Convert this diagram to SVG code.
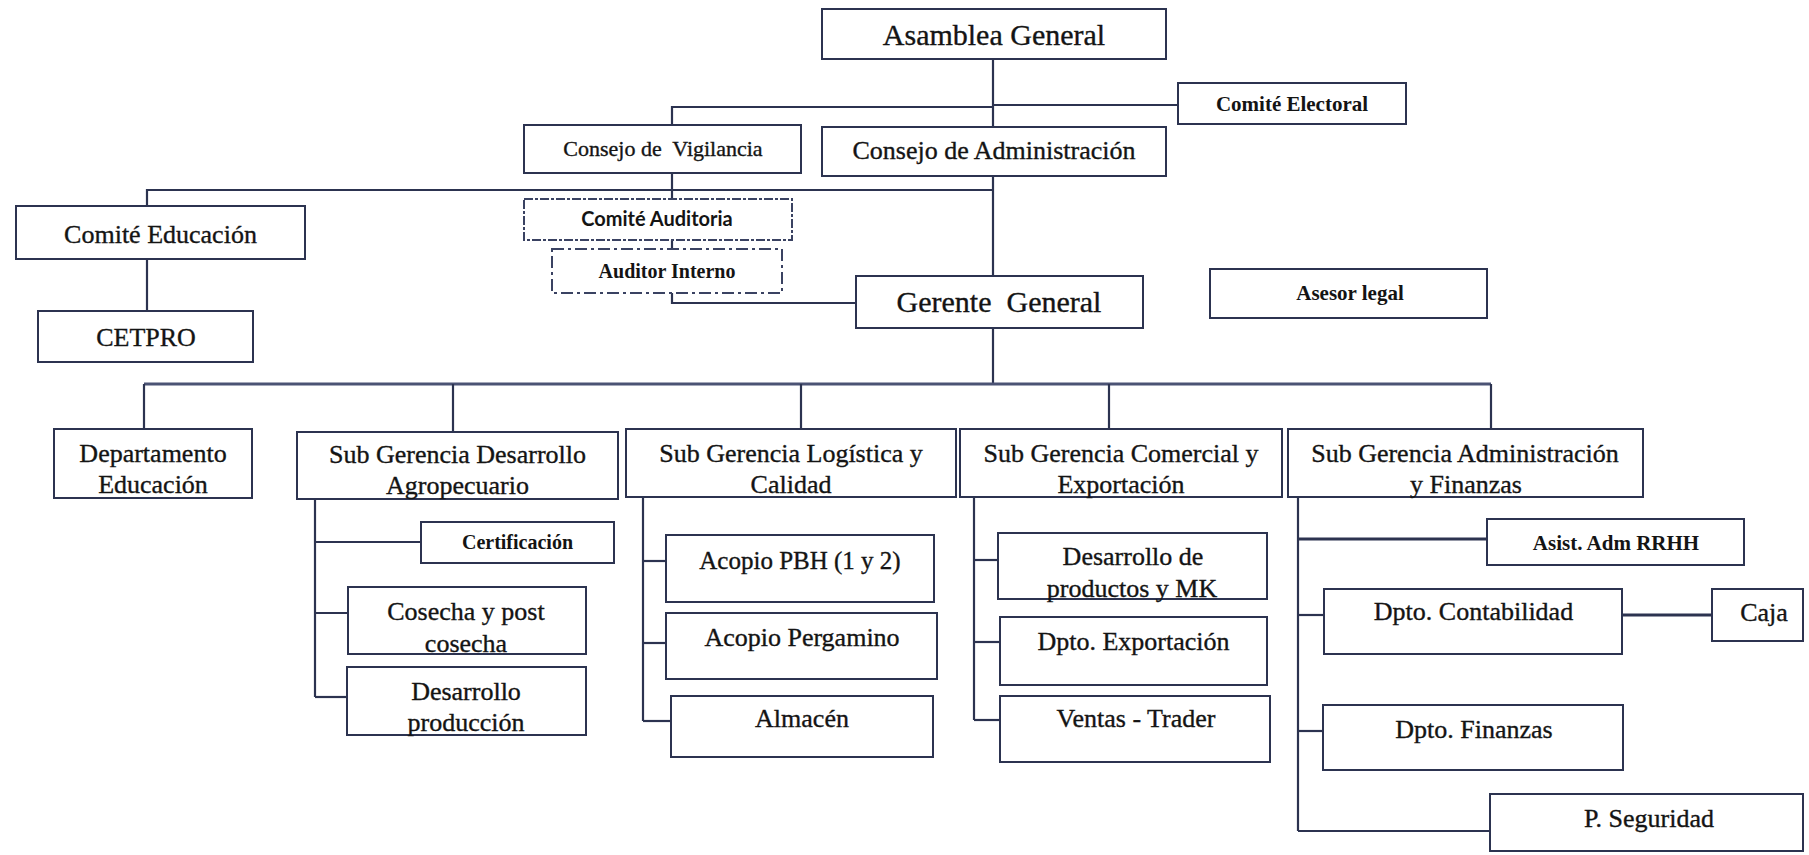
<svg xmlns="http://www.w3.org/2000/svg" width="1809" height="855" viewBox="0 0 1809 855">
  <style>
    .box { fill: #ffffff; stroke: #2c3350; stroke-width: 2; }
    .dash1 { fill: #ffffff; stroke: #3a4262; stroke-width: 2; stroke-dasharray: 9 2 3 2; }
    .dash2 { fill: #ffffff; stroke: #3a4262; stroke-width: 2; stroke-dasharray: 12 4 3 4; }
    .ln { fill: none; stroke: #2c3350; stroke-width: 2.2; }
    .bus { fill: none; stroke: #4b5374; stroke-width: 3; }
    text { font-family: "Liberation Serif", "Times New Roman", serif; fill: #141414; text-anchor: middle; }
    .t30, .t26, .t25, .t22 { stroke: #141414; stroke-width: 0.35; }
    .t30 { font-size: 30px; }
    .t26 { font-size: 26px; }
    .t25 { font-size: 25px; }
    .t22 { font-size: 22px; }
    .b21 { font-size: 21px; font-weight: bold; }
    .b20 { font-size: 20px; font-weight: bold; }
    .s20 { font-family: Lato, "Open Sans", sans-serif; font-size: 20px; font-weight: bold; }
    .pre { white-space: pre; }
  </style>

  <!-- connectors -->
  <g id="connectors">
    <!-- governing bodies -->
    <line class="ln" x1="993" y1="59" x2="993" y2="127"/>
    <line class="ln" x1="993" y1="176" x2="993" y2="276"/>
    <polyline class="ln" points="993,107 672,107 672,125"/>
    <line class="ln" x1="993" y1="105" x2="1178" y2="105"/>
    <polyline class="ln" points="993,190 147,190 147,206"/>
    <line class="ln" x1="672" y1="173" x2="672" y2="199"/>
    <line class="ln" x1="672" y1="240" x2="672" y2="249"/>
    <polyline class="ln" points="672,293 672,303 856,303"/>
    <line class="ln" x1="147" y1="259" x2="147" y2="311"/>
    <!-- general manager to sub-managements -->
    <line class="ln" x1="993" y1="328" x2="993" y2="384"/>
    <line class="bus" x1="144" y1="384" x2="1491" y2="384"/>
    <line class="ln" x1="144" y1="384" x2="144" y2="429"/>
    <line class="ln" x1="453" y1="384" x2="453" y2="432"/>
    <line class="ln" x1="801" y1="384" x2="801" y2="429"/>
    <line class="ln" x1="1109" y1="384" x2="1109" y2="429"/>
    <line class="ln" x1="1491" y1="384" x2="1491" y2="429"/>
    <!-- desarrollo agropecuario -->
    <line class="ln" x1="315" y1="499" x2="315" y2="697"/>
    <line class="ln" x1="315" y1="542" x2="421" y2="542"/>
    <line class="ln" x1="315" y1="613" x2="348" y2="613"/>
    <line class="ln" x1="315" y1="697" x2="347" y2="697"/>
    <!-- logistica -->
    <line class="ln" x1="643" y1="497" x2="643" y2="721"/>
    <line class="ln" x1="643" y1="561" x2="666" y2="561"/>
    <line class="ln" x1="643" y1="643" x2="666" y2="643"/>
    <line class="ln" x1="643" y1="721" x2="671" y2="721"/>
    <!-- comercial -->
    <line class="ln" x1="974" y1="497" x2="974" y2="720"/>
    <line class="ln" x1="974" y1="560" x2="998" y2="560"/>
    <line class="ln" x1="974" y1="642" x2="1000" y2="642"/>
    <line class="ln" x1="974" y1="720" x2="1000" y2="720"/>
    <!-- administracion y finanzas -->
    <line class="ln" x1="1298" y1="497" x2="1298" y2="831"/>
    <line class="ln" x1="1298" y1="539" x2="1487" y2="539" style="stroke-width:2.8"/>
    <line class="ln" x1="1298" y1="615" x2="1324" y2="615"/>
    <line class="ln" x1="1298" y1="731" x2="1323" y2="731"/>
    <line class="ln" x1="1298" y1="831" x2="1490" y2="831"/>
    <line class="ln" x1="1622" y1="615" x2="1712" y2="615" style="stroke-width:2.8"/>
  </g>

  <g id="asamblea-general">
    <rect class="box" x="822" y="9" width="344" height="50"/>
    <text class="t30" x="994" y="45">Asamblea General</text>
  </g>
  <g id="comite-electoral">
    <rect class="box" x="1178" y="83" width="228" height="41"/>
    <text class="b21" x="1292" y="111">Comité Electoral</text>
  </g>
  <g id="consejo-vigilancia">
    <rect class="box" x="524" y="125" width="277" height="48"/>
    <text class="t22 pre" xml:space="preserve" x="663" y="156">Consejo de  Vigilancia</text>
  </g>
  <g id="consejo-administracion">
    <rect class="box" x="822" y="127" width="344" height="49"/>
    <text class="t26" x="994" y="159">Consejo de Administración</text>
  </g>
  <g id="comite-educacion">
    <rect class="box" x="16" y="206" width="289" height="53"/>
    <text class="t26" x="160.5" y="243">Comité Educación</text>
  </g>
  <g id="cetpro">
    <rect class="box" x="38" y="311" width="215" height="51"/>
    <text class="t26" x="146" y="346">CETPRO</text>
  </g>
  <g id="comite-auditoria">
    <rect class="dash1" x="524" y="199" width="268" height="41"/>
    <text class="s20" x="657" y="226">Comité Auditoria</text>
  </g>
  <g id="auditor-interno">
    <rect class="dash2" x="552" y="249" width="230" height="44"/>
    <text class="b20" x="667" y="278">Auditor Interno</text>
  </g>
  <g id="gerente-general">
    <rect class="box" x="856" y="276" width="287" height="52"/>
    <text class="t30 pre" xml:space="preserve" x="999" y="312">Gerente  General</text>
  </g>
  <g id="asesor-legal">
    <rect class="box" x="1210" y="269" width="277" height="49"/>
    <text class="b21" x="1350" y="300">Asesor legal</text>
  </g>

  <g id="departamento-educacion">
    <rect class="box" x="54" y="429" width="198" height="69"/>
    <text class="t26" x="153" y="462">Departamento</text>
    <text class="t26" x="153" y="493">Educación</text>
  </g>
  <g id="sg-desarrollo-agropecuario">
    <rect class="box" x="297" y="432" width="321" height="67"/>
    <text class="t26" x="457.5" y="463">Sub Gerencia Desarrollo</text>
    <text class="t26" x="457.5" y="494">Agropecuario</text>
  </g>
  <g id="sg-logistica-calidad">
    <rect class="box" x="626" y="429" width="330" height="68"/>
    <text class="t26" x="791" y="462">Sub Gerencia Logística y</text>
    <text class="t26" x="791" y="493">Calidad</text>
  </g>
  <g id="sg-comercial-exportacion">
    <rect class="box" x="960" y="429" width="322" height="68"/>
    <text class="t26" x="1121" y="462">Sub Gerencia Comercial y</text>
    <text class="t26" x="1121" y="493">Exportación</text>
  </g>
  <g id="sg-administracion-finanzas">
    <rect class="box" x="1288" y="429" width="355" height="68"/>
    <text class="t26" x="1465" y="462">Sub Gerencia Administración</text>
    <text class="t26" x="1466" y="493">y Finanzas</text>
  </g>

  <g id="certificacion">
    <rect class="box" x="421" y="522" width="193" height="41"/>
    <text class="b20" x="517.5" y="549">Certificación</text>
  </g>
  <g id="cosecha-post-cosecha">
    <rect class="box" x="348" y="587" width="238" height="67"/>
    <text class="t26" x="466" y="620">Cosecha y post</text>
    <text class="t26" x="466" y="652">cosecha</text>
  </g>
  <g id="desarrollo-produccion">
    <rect class="box" x="347" y="667" width="239" height="68"/>
    <text class="t26" x="466" y="700">Desarrollo</text>
    <text class="t26" x="466" y="731">producción</text>
  </g>

  <g id="acopio-pbh">
    <rect class="box" x="666" y="535" width="268" height="67"/>
    <text class="t25" x="800" y="569">Acopio PBH (1 y 2)</text>
  </g>
  <g id="acopio-pergamino">
    <rect class="box" x="666" y="613" width="271" height="66"/>
    <text class="t26" x="802" y="646">Acopio Pergamino</text>
  </g>
  <g id="almacen">
    <rect class="box" x="671" y="696" width="262" height="61"/>
    <text class="t26" x="802" y="727">Almacén</text>
  </g>

  <g id="desarrollo-productos-mk">
    <rect class="box" x="998" y="533" width="269" height="66"/>
    <text class="t26" x="1133" y="565">Desarrollo de</text>
    <text class="t26" x="1132" y="597">productos y MK</text>
  </g>
  <g id="dpto-exportacion">
    <rect class="box" x="1000" y="617" width="267" height="68"/>
    <text class="t26" x="1133.5" y="650">Dpto. Exportación</text>
  </g>
  <g id="ventas-trader">
    <rect class="box" x="1000" y="696" width="270" height="66"/>
    <text class="t26" x="1136" y="727">Ventas - Trader</text>
  </g>

  <g id="asist-adm-rrhh">
    <rect class="box" x="1487" y="519" width="257" height="46"/>
    <text class="b21" x="1616" y="550">Asist. Adm RRHH</text>
  </g>
  <g id="dpto-contabilidad">
    <rect class="box" x="1324" y="589" width="298" height="65"/>
    <text class="t26" x="1473.5" y="620">Dpto. Contabilidad</text>
  </g>
  <g id="caja">
    <rect class="box" x="1712" y="589" width="91" height="52"/>
    <text class="t26" x="1764" y="621">Caja</text>
  </g>
  <g id="dpto-finanzas">
    <rect class="box" x="1323" y="705" width="300" height="65"/>
    <text class="t26" x="1474" y="738">Dpto. Finanzas</text>
  </g>
  <g id="p-seguridad">
    <rect class="box" x="1490" y="794" width="313" height="57"/>
    <text class="t26" x="1649" y="827">P. Seguridad</text>
  </g>
</svg>
